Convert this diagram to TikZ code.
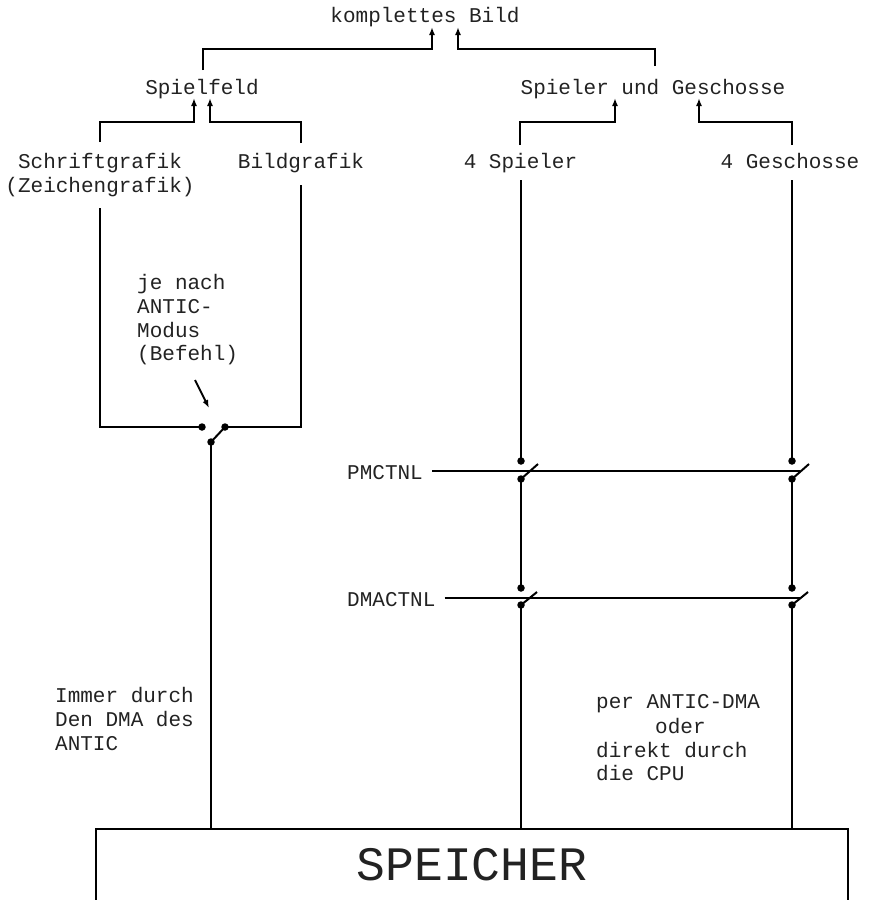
\documentclass[tikz,border=0pt]{standalone}
\usepackage{fontspec}
\setmainfont{Liberation Mono}
\usetikzlibrary{arrows.meta}
\definecolor{txt}{HTML}{222222}
\begin{document}
\begin{tikzpicture}[x=1pt,y=-1pt,
  lbl/.style={inner sep=0pt, text=txt, font=\fontsize{21}{24}\selectfont},
  wire/.style={line width=2pt, black},
  ctl/.style={line width=1.2pt, black},
  arr/.style={wire, -{Latex[length=8pt,width=6pt]}},
  dotc/.style={circle, fill=black, inner sep=0pt, minimum size=7.5pt}]
\useasboundingbox (0,0) rectangle (869,900);

% ---- labels ----
\node[lbl, anchor=base] (bild) at (425,22) {komplettes Bild};
\node[lbl, anchor=base] (spielfeld) at (202,94) {Spielfeld};
\node[lbl, anchor=base] (spg) at (653,94) {Spieler und Geschosse};
\node[lbl, anchor=base] (schrift) at (100,168) {Schriftgrafik};
\node[lbl, anchor=base] (zeichen) at (100,192) {(Zeichengrafik)};
\node[lbl, anchor=base] (bildgr) at (301,168) {Bildgrafik};
\node[lbl, anchor=base] (spieler) at (520.5,168) {4 Spieler};
\node[lbl, anchor=base] (gesch) at (790,168) {4 Geschosse};

\node[lbl, anchor=base west] (je1) at (137,289) {je nach};
\node[lbl, anchor=base west] (je2) at (137,313) {ANTIC-};
\node[lbl, anchor=base west] (je3) at (137,337) {Modus};
\node[lbl, anchor=base west] (je4) at (137,360) {(Befehl)};

\node[lbl, anchor=base west] (im1) at (55,702) {Immer durch};
\node[lbl, anchor=base west] (im2) at (55,726) {Den DMA des};
\node[lbl, anchor=base west] (im3) at (55,750) {ANTIC};

\node[lbl, anchor=base west] (pe1) at (596,708) {per ANTIC-DMA};
\node[lbl, anchor=base west] (pe2) at (655,733) {oder};
\node[lbl, anchor=base west] (pe3) at (596,757) {direkt durch};
\node[lbl, anchor=base west] (pe4) at (596,780) {die CPU};

\node[lbl, anchor=base west] (pmc) at (347,479) {PMCTNL};
\node[lbl, anchor=base west] (dmc) at (347,606) {DMACTNL};

\node[lbl, anchor=base, font=\fontsize{48}{52}\selectfont] (speicher) at (472,880) {SPEICHER};

% ---- memory box (open at the bottom) ----
\coordinate (mbl) at (96,900);
\coordinate (mtl) at (96,829);
\coordinate (mtr) at (848,829);
\coordinate (mbr) at (848,900);
\draw[wire] (mbl) -- (mtl) -- (mtr) -- (mbr);

% ---- top tree ----
\coordinate (sfUp) at (203,70);
\coordinate (kL) at (432,49);
\coordinate (kLt) at (432,27);
\draw[arr] (sfUp) |- (kL) -- (kLt);
\coordinate (spUp) at (655,66);
\coordinate (kR) at (458,49);
\coordinate (kRt) at (458,27);
\draw[arr] (spUp) |- (kR) -- (kRt);

\coordinate (scUp) at (100,142);
\coordinate (fL) at (194,122);
\coordinate (fLt) at (194,98);
\draw[arr] (scUp) |- (fL) -- (fLt);
\coordinate (bgUp) at (301,143);
\coordinate (fR) at (210,122);
\coordinate (fRt) at (210,98);
\draw[arr] (bgUp) |- (fR) -- (fRt);

\coordinate (s4Up) at (520,145);
\coordinate (gL) at (615,122);
\coordinate (gLt) at (615,98);
\draw[arr] (s4Up) |- (gL) -- (gLt);
\coordinate (g4Up) at (792,145);
\coordinate (gR) at (699,122);
\coordinate (gRt) at (699,98);
\draw[arr] (g4Up) |- (gR) -- (gRt);

% ---- left branch with mode switch ----
\coordinate (scDn) at (100,208);
\coordinate (bgDn) at (301,185);
\node[dotc] (swA) at (202,427) {};
\node[dotc] (swB) at (225,427) {};
\node[dotc] (swC) at (211,442) {};
\draw[wire] (scDn) |- (swA.center);
\draw[wire] (bgDn) |- (swB.center);
\draw[wire] (swC.center) -- (swB.center);
\draw[wire] (swC.center) -- (swC.center |- mtl);
\coordinate (pA) at (195,380);
\coordinate (pB) at (209,408);
\draw[arr] (pA) -- (pB);

% ---- right branches with PMCTNL / DMACTNL switches ----
\coordinate (spDn) at (521,180);
\coordinate (geDn) at (792,180);
\node[dotc] (p1a) at (521,461) {};
\node[dotc] (p1b) at (521,479) {};
\node[dotc] (d1a) at (521,588) {};
\node[dotc] (d1b) at (521,605) {};
\node[dotc] (p2a) at (792,461) {};
\node[dotc] (p2b) at (792,479) {};
\node[dotc] (d2a) at (792,588) {};
\node[dotc] (d2b) at (792,605) {};

\draw[wire] (spDn) -- (p1a.center);
\draw[wire] (p1b.center) -- (d1a.center);
\draw[wire] (d1b.center) -- (d1b.center |- mtl);
\draw[wire] (geDn) -- (p2a.center);
\draw[wire] (p2b.center) -- (d2a.center);
\draw[wire] (d2b.center) -- (d2b.center |- mtl);

\coordinate (p1t) at (538,464);
\coordinate (p2t) at (809,464);
\coordinate (d1t) at (537,592);
\coordinate (d2t) at (808,592);
\draw[wire] (p1b.center) -- (p1t);
\draw[wire] (p2b.center) -- (p2t);
\draw[wire] (d1b.center) -- (d1t);
\draw[wire] (d2b.center) -- (d2t);

\coordinate (pmE) at (800,471);
\coordinate (dmE) at (800,598);
\draw[ctl] ([xshift=9pt]pmc.east |- pmE) -- (pmE);
\draw[ctl] ([xshift=9pt]dmc.east |- dmE) -- (dmE);
\end{tikzpicture}
\end{document}
